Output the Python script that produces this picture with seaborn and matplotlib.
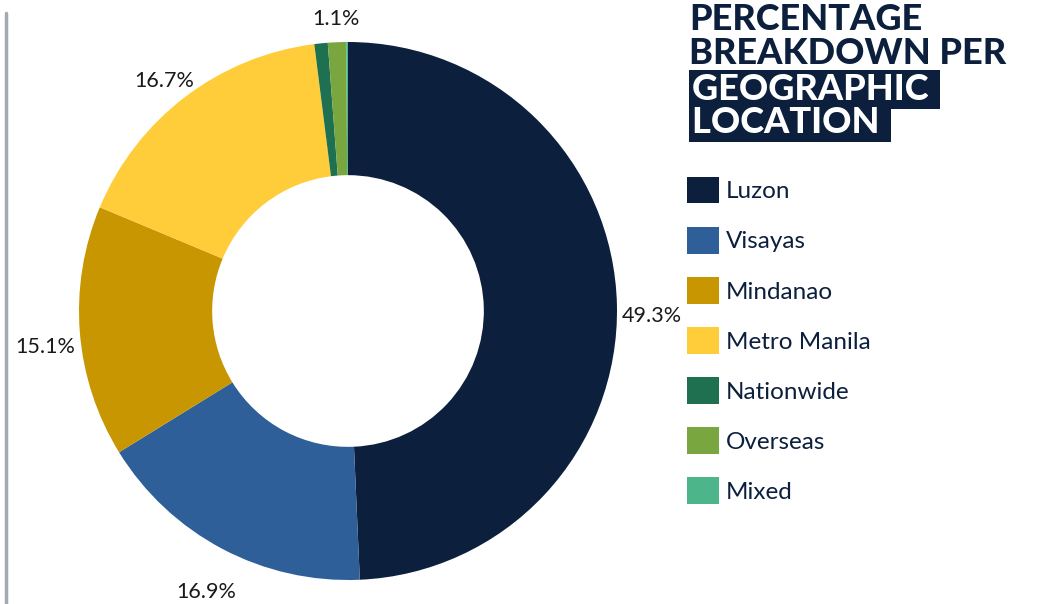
import matplotlib
matplotlib.use("Agg")
import matplotlib.pyplot as plt
import matplotlib.transforms as mtransforms
import seaborn as sns
from matplotlib.lines import Line2D
from matplotlib.patches import Patch

# Data
regions = ["Luzon", "Visayas", "Mindanao", "Metro Manila", "Nationwide", "Overseas", "Mixed"]
shares = [49.3, 16.9, 15.1, 16.7, 0.8, 1.1, 0.1]
colors = ["#0c1f3d", "#2e5f99", "#c89600", "#ffcc3a", "#1e7050", "#7aa640", "#4cb58a"]
title_lines = ["PERCENTAGE", "BREAKDOWN PER", "GEOGRAPHIC ", "LOCATION "]

sns.set_theme(style="white")
plt.rcParams['font.family'] = ['Lato', 'DejaVu Sans']

navy = "#0c1f3d"
W, H = 1044, 604
fig = plt.figure(figsize=(W / 100, H / 100), dpi=100)

# donut
cx, cy, r = 348, 311, 269
ax = fig.add_axes([(cx - r) / W, (H - cy - r) / H, 2 * r / W, 2 * r / H])
labels = [f"{v:.1f}%" if v >= 1 else "" for v in shares]
wedges, texts = ax.pie(shares, colors=colors, labels=labels, startangle=90,
                       counterclock=False, labeldistance=1.13,
                       wedgeprops=dict(width=0.495, linewidth=0),
                       textprops=dict(fontsize=15.5, color="#1a1a1a"))
shift = mtransforms.ScaledTranslation(0, -12 / 100, fig.dpi_scale_trans)
for t in texts:
    t.set_horizontalalignment("center")
    t.set_transform(t.get_transform() + shift)
ax.set_xlim(-1, 1)
ax.set_ylim(-1, 1)
ax.set_aspect("equal")

# title
baselines = [30, 64, 100, 133]
for i, (line, yb) in enumerate(zip(title_lines, baselines)):
    if i < 2:
        fig.text(689 / W, 1 - yb / H, line, fontsize=26, fontweight="black",
                 color=navy, va="baseline", ha="left")
    else:
        fig.text(692 / W, 1 - yb / H, line, fontsize=26, fontweight="black",
                 color="white", va="baseline", ha="left",
                 bbox=dict(boxstyle="square,pad=0.08", fc=navy, ec="none"))

# legend
handles = [Patch(facecolor=c, edgecolor="none") for c in colors]
leg = fig.legend(handles, regions, loc="upper left",
                 bbox_to_anchor=(687 / W, 1 - 177 / H), bbox_transform=fig.transFigure,
                 frameon=False, fontsize=17.5, handlelength=1.3, handleheight=1.3,
                 handletextpad=0.3, labelspacing=0.97, borderpad=0, borderaxespad=0)
for t in leg.get_texts():
    t.set_color(navy)

# left rule
fig.add_artist(Line2D([5.5 / W, 5.5 / W], [0, 1 - 13 / H], color="#a3a9b3", linewidth=2.5,
                      transform=fig.transFigure))

fig.savefig("out.png", dpi=100)
